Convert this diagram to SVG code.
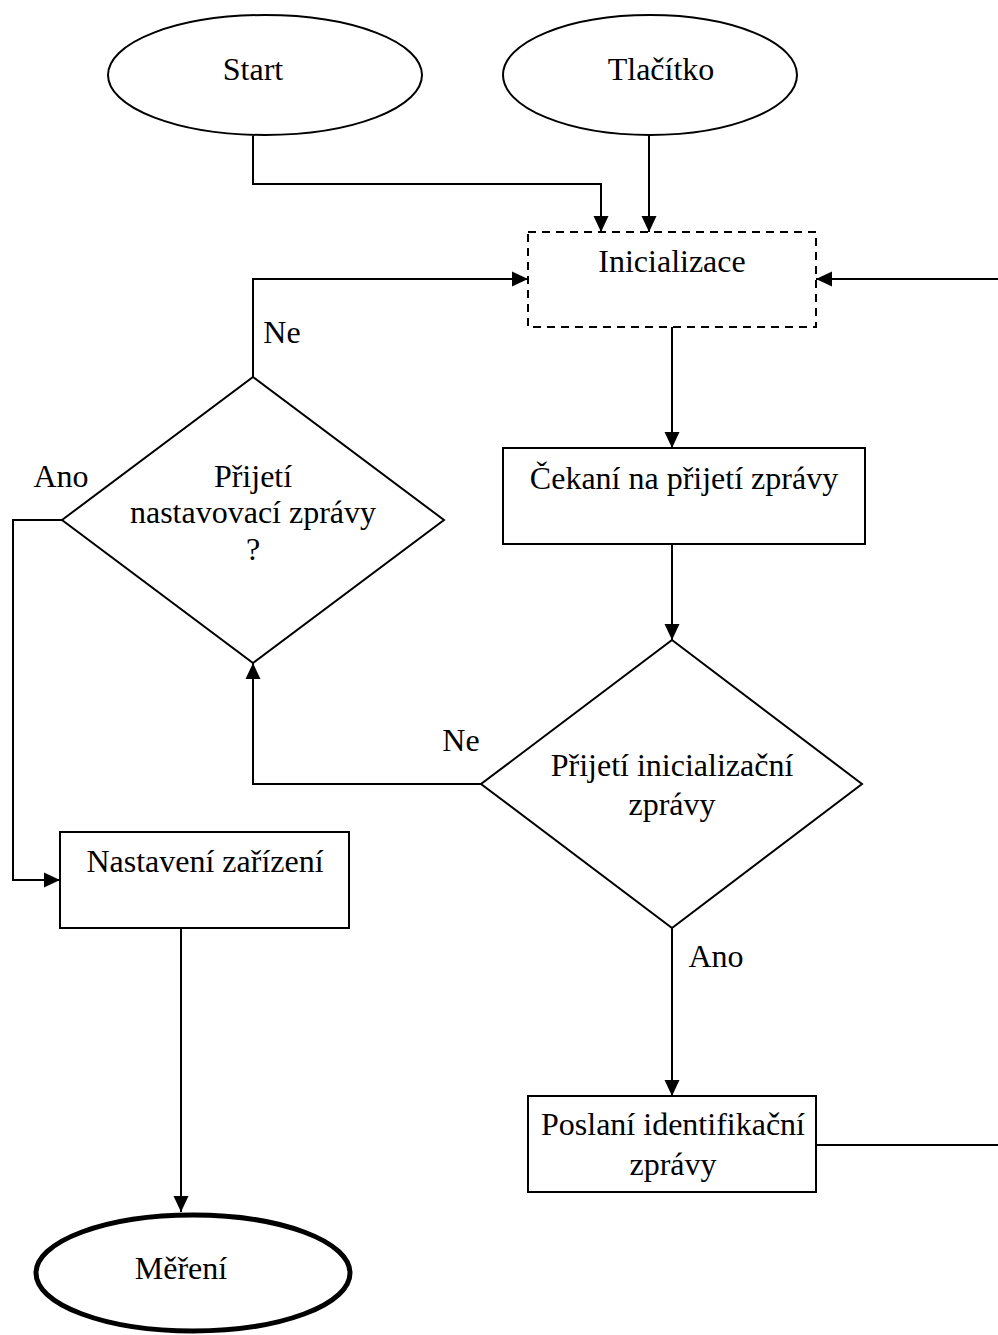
<svg xmlns="http://www.w3.org/2000/svg" width="998" height="1335" viewBox="0 0 998 1335">
  <style>
    .shape { fill: #fff; stroke: #000; stroke-width: 2; }
    .dash { stroke-dasharray: 8 6; }
    .bold { stroke-width: 5; }
    .lbl { font-family: "Liberation Serif", "Times New Roman", serif; font-size: 32px; fill: #000; text-anchor: middle; }
    .edge { fill: none; stroke: #000; stroke-width: 2; }
  </style>
  <defs>
    <marker id="arr" viewBox="0 0 16 16" refX="16" refY="8" markerWidth="16" markerHeight="16" markerUnits="userSpaceOnUse" orient="auto">
      <path d="M0,0.5 L16,8 L0,15.5 Z" fill="#000"/>
    </marker>
  </defs>

  <rect width="998" height="1335" fill="#fff"/>

  <g id="connectors">
    <polyline class="edge" points="253,136 253,184 601,184 601,232" marker-end="url(#arr)"/>
    <line class="edge" x1="649" y1="136" x2="649" y2="232" marker-end="url(#arr)"/>
    <polyline class="edge" points="253,377 253,279 528,279" marker-end="url(#arr)"/>
    <line class="edge" x1="998" y1="279" x2="816" y2="279" marker-end="url(#arr)"/>
    <line class="edge" x1="672" y1="327" x2="672" y2="448" marker-end="url(#arr)"/>
    <line class="edge" x1="672" y1="544" x2="672" y2="640" marker-end="url(#arr)"/>
    <polyline class="edge" points="481,784 253,784 253,663" marker-end="url(#arr)"/>
    <polyline class="edge" points="62,520 13,520 13,880 60,880" marker-end="url(#arr)"/>
    <line class="edge" x1="672" y1="928" x2="672" y2="1096" marker-end="url(#arr)"/>
    <line class="edge" x1="181" y1="928" x2="181" y2="1212" marker-end="url(#arr)"/>
    <line class="edge" x1="816" y1="1145" x2="998" y2="1145"/>
    <text class="lbl" x="282" y="343">Ne</text>
    <text class="lbl" x="61" y="487">Ano</text>
    <text class="lbl" x="461" y="751">Ne</text>
    <text class="lbl" x="716" y="967">Ano</text>
  </g>

  <g id="start">
    <ellipse class="shape" cx="265" cy="75" rx="157" ry="60"/>
    <text class="lbl" x="253" y="80">Start</text>
  </g>

  <g id="tlacitko">
    <ellipse class="shape" cx="650" cy="75" rx="147" ry="60"/>
    <text class="lbl" x="661" y="80">Tlačítko</text>
  </g>

  <g id="inicializace">
    <rect class="shape dash" x="528" y="232" width="288" height="95"/>
    <text class="lbl" x="672" y="272">Inicializace</text>
  </g>

  <g id="cekani">
    <rect class="shape" x="503" y="448" width="362" height="96"/>
    <text class="lbl" x="684" y="489">Čekaní na přijetí zprávy</text>
  </g>

  <g id="prijeti-nastavovaci">
    <polygon class="shape" points="253,377 444,520 253,663 62,520"/>
    <text class="lbl" x="253" y="487">Přijetí</text>
    <text class="lbl" x="253" y="523">nastavovací zprávy</text>
    <text class="lbl" x="253" y="560">?</text>
  </g>

  <g id="prijeti-inicializacni">
    <polygon class="shape" points="672,640 862,784 672,928 481,784"/>
    <text class="lbl" x="672" y="776">Přijetí inicializační</text>
    <text class="lbl" x="672" y="815">zprávy</text>
  </g>

  <g id="nastaveni">
    <rect class="shape" x="60" y="832" width="289" height="96"/>
    <text class="lbl" x="205" y="872">Nastavení zařízení</text>
  </g>

  <g id="poslani">
    <rect class="shape" x="528" y="1096" width="288" height="96"/>
    <text class="lbl" x="673" y="1135">Poslaní identifikační</text>
    <text class="lbl" x="673" y="1175">zprávy</text>
  </g>

  <g id="mereni">
    <ellipse class="shape bold" cx="193" cy="1273" rx="157" ry="58"/>
    <text class="lbl" x="181" y="1279">Měření</text>
  </g>
</svg>
